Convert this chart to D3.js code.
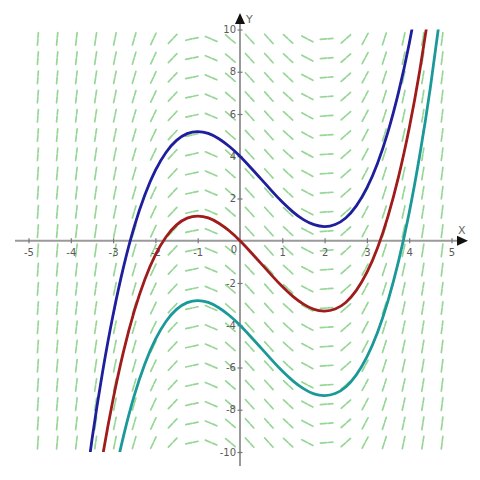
<!DOCTYPE html>
<html><head><meta charset="utf-8">
<script src="https://cdn.jsdelivr.net/npm/d3@7"></script>
<style>html,body{margin:0;padding:0;background:#fff;}svg{display:block;}</style>
</head><body>
<svg id="c" width="480" height="480"></svg>
<script>
// ---- data ----
const xTicks = [-5,-4,-3,-2,-1,1,2,3,4,5];
const yTicks = [-10,-8,-6,-4,-2,2,4,6,8,10];
// slope-field columns (x) and rows (y)
const fieldX = [-4.7775,-4.3225,-3.8675,-3.4125,-2.9575,-2.5025,-2.0475,-1.5925,-1.1375,-0.6825,-0.2275,
                0.2275,0.6825,1.1375,1.5925,2.0475,2.5025,2.9575,3.4125,3.8675,4.3225,4.7775];
const fieldSlope = [25.60,21.01,16.83,13.06,9.70,6.77,4.24,2.13,0.43,-0.85,-1.72,
                    -2.18,-2.22,-1.84,-1.06,0.14,1.76,3.79,6.23,9.09,12.36,16.05];
const fieldY = [-9.555,-8.645,-7.735,-6.825,-5.915,-5.005,-4.095,-3.185,-2.275,-1.365,-0.455,
                0.455,1.365,2.275,3.185,4.095,5.005,5.915,6.825,7.735,8.645,9.555];
// solution curves
const blueX = [-3.75,-3.5,-3.25,-3,-2.75,-2.5,-2.25,-2,-1.75,-1.5,-1.25,-1,-0.75,-0.5,-0.25,0,0.25,0.5,0.75,1,1.25,1.5,1.75,2,2.25,2.5,2.75,3,3.25,3.5,3.75,4,4.25];
const blueY = [-13.11,-9.42,-6.22,-3.5,-1.21,0.67,2.17,3.33,4.18,4.75,5.07,5.17,5.08,4.83,4.46,4,3.47,2.92,2.36,1.83,1.37,1,0.76,0.67,0.77,1.08,1.65,2.5,3.66,5.17,7.05,9.33,12.06];
const redX = [-3.5,-3.25,-3,-2.75,-2.5,-2.25,-2,-1.75,-1.5,-1.25,-1,-0.75,-0.5,-0.25,0,0.25,0.5,0.75,1,1.25,1.5,1.75,2,2.25,2.5,2.75,3,3.25,3.5,3.75,4,4.25,4.5];
const redY = [-13.42,-10.22,-7.5,-5.21,-3.33,-1.83,-0.67,0.18,0.75,1.07,1.17,1.08,0.83,0.46,0,-0.53,-1.08,-1.64,-2.17,-2.63,-3,-3.25,-3.33,-3.23,-2.92,-2.35,-1.5,-0.34,1.17,3.05,5.33,8.06,11.25];
const tealX = [-3.25,-3,-2.75,-2.5,-2.25,-2,-1.75,-1.5,-1.25,-1,-0.75,-0.5,-0.25,0,0.25,0.5,0.75,1,1.25,1.5,1.75,2,2.25,2.5,2.75,3,3.25,3.5,3.75,4,4.25,4.5,4.75];
const tealY = [-14.22,-11.5,-9.21,-7.33,-5.83,-4.67,-3.82,-3.25,-2.93,-2.83,-2.92,-3.17,-3.54,-4,-4.53,-5.08,-5.64,-6.17,-6.63,-7,-7.25,-7.33,-7.23,-6.92,-6.35,-5.5,-4.34,-2.83,-0.95,1.33,4.06,7.25,10.94];

// ---- scales ----
const svg = d3.select("#c");
const x = d3.scaleLinear().domain([-5,5]).range([28.5,451.5]);
const y = d3.scaleLinear().domain([-10,10]).range([452,29.5]);

// ---- slope field ----
const segLen = 12.5;
const field = svg.append("g").attr("stroke","#96d696").attr("stroke-width",1.7)
  .attr("stroke-linecap","round").attr("stroke-dasharray","6,1.6");
fieldX.forEach((fx,i)=>{
  const m = fieldSlope[i];
  const dx = x(1)-x(0), dy = y(m)-y(0);
  const n = Math.hypot(dx,dy);
  const ux = dx/n*segLen/2, uy = dy/n*segLen/2;
  fieldY.forEach(fy=>{
    const cx = x(fx), cy = y(fy);
    field.append("line").attr("x1",cx-ux).attr("y1",cy-uy).attr("x2",cx+ux).attr("y2",cy+uy);
  });
});

// ---- axes ----
const ax = svg.append("g");
ax.append("line").attr("x1",15).attr("x2",460).attr("y1",y(0)).attr("y2",y(0))
  .attr("stroke","#9a9a9a").attr("stroke-width",2);
ax.append("line").attr("x1",x(0)).attr("x2",x(0)).attr("y1",21).attr("y2",466)
  .attr("stroke","#9a9a9a").attr("stroke-width",2);
ax.append("path").attr("d",`M${468},${y(0)} L${457},${y(0)-5} L${457},${y(0)+5} Z`).attr("fill","#111");
ax.append("path").attr("d",`M${x(0)},${13} L${x(0)-5},${24} L${x(0)+5},${24} Z`).attr("fill","#111");

const xAxis = d3.axisBottom(x).tickValues(xTicks).tickSize(0).tickPadding(0).tickFormat(d=>String(d));
const gx = svg.append("g").attr("transform",`translate(0,${y(0)})`).call(xAxis);
gx.select(".domain").remove();
gx.selectAll("text").attr("dy","1.5em").attr("fill","#5a5a5a").style("font","10px 'DejaVu Sans', sans-serif");
gx.selectAll(".tick").append("line").attr("y1",-2.5).attr("y2",2.5).attr("stroke","#777").attr("stroke-width",1.2);

const yAxis = d3.axisLeft(y).tickValues(yTicks).tickSize(0).tickPadding(4).tickFormat(d=>String(d));
const gy = svg.append("g").attr("transform",`translate(${x(0)},0)`).call(yAxis);
gy.select(".domain").remove();
gy.selectAll("text").attr("fill","#5a5a5a").style("font","10px 'DejaVu Sans', sans-serif");
gy.selectAll(".tick").append("line").attr("x1",-2.5).attr("x2",2.5).attr("stroke","#777").attr("stroke-width",1.2);

svg.append("text").attr("x",x(0)-3).attr("y",y(0)+12).attr("text-anchor","end")
  .attr("fill","#5a5a5a").style("font","10px 'DejaVu Sans', sans-serif").text("0");
svg.append("text").attr("x",458).attr("y",y(0)-7).attr("fill","#666")
  .style("font","11px 'DejaVu Sans', sans-serif").text("X");
svg.append("text").attr("x",x(0)+6).attr("y",23).attr("fill","#666")
  .style("font","11px 'DejaVu Sans', sans-serif").text("Y");

// ---- curves ----
svg.append("defs").append("clipPath").attr("id","clip").append("rect")
  .attr("x",0).attr("width",480).attr("y",y(10)).attr("height",y(-10)-y(10));
const line = d3.line().x(d=>x(d[0])).y(d=>y(d[1])).curve(d3.curveNatural);
const curves = [
  {xs: blueX, ys: blueY, color: "#1f1f9e"},
  {xs: redX, ys: redY, color: "#a01c1c"},
  {xs: tealX, ys: tealY, color: "#1b9898"}
];
const cg = svg.append("g").attr("clip-path","url(#clip)");
curves.forEach(c=>{
  cg.append("path").attr("d",line(c.xs.map((v,i)=>[v,c.ys[i]])))
    .attr("fill","none").attr("stroke",c.color).attr("stroke-width",2.8).attr("stroke-linecap","round");
});
</script>
</body></html>
